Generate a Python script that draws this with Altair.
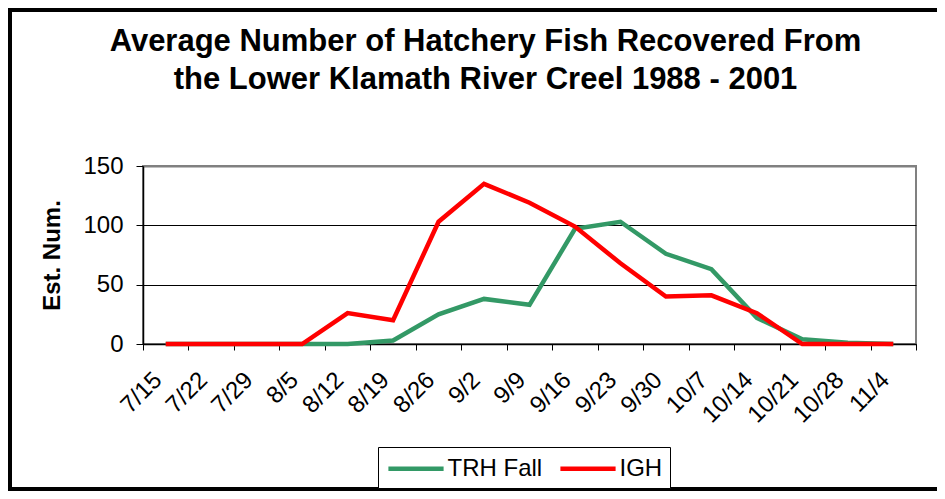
import altair as alt
import pandas as pd

weeks = ["7/15", "7/22", "7/29", "8/5", "8/12", "8/19", "8/26", "9/2", "9/9",
         "9/16", "9/23", "9/30", "10/7", "10/14", "10/21", "10/28", "11/4"]
trh_fall = [0, 0, 0, 0, 0, 3, 25, 38, 33, 97, 103, 76, 63, 22, 4, 1, 0]
igh = [0, 0, 0, 0, 26, 20, 103, 135, 119, 99, 68, 40, 41, 26, 0, 0, 0]
series_names = ["TRH Fall", "IGH"]
series_colors = ["#339966", "#FF0000"]
y_ticks = [0, 50, 100, 150]

rows = []
for name, vals in zip(series_names, [trh_fall, igh]):
    for w, v in zip(weeks, vals):
        rows.append({"week": w, "series": name, "value": v})
df = pd.DataFrame(rows)

frame = alt.Chart(pd.DataFrame({"a": [0]})).mark_rect(
    filled=False, stroke="black", strokeWidth=4, clip=False
).encode(
    x=alt.value(-133), x2=alt.value(820), y=alt.value(-156), y2=alt.value(323)
)

lines = alt.Chart(df).mark_line(strokeWidth=4.5, strokeJoin="miter").encode(
    x=alt.X(
        "week:O", sort=weeks,
        scale=alt.Scale(type="band", paddingInner=0, paddingOuter=0),
        bandPosition=0.5,
        axis=alt.Axis(
            title=None, labelAngle=315, labelAlign="right", labelBaseline="middle",
            tickBand="extent", tickSize=6, labelPadding=26, labelOffset=-8,
            labelFontSize=24, labelColor="black", tickColor="black",
            domainColor="black", domainWidth=1.5, grid=False,
        ),
    ),
    y=alt.Y(
        "value:Q", scale=alt.Scale(domain=[0, 150], nice=False),
        axis=alt.Axis(
            values=y_ticks, title="Est. Num.", titleFontSize=24, titleFontWeight="bold",
            titleColor="black", titlePadding=18, labelFontSize=24, labelColor="black",
            labelPadding=13, tickSize=7, tickColor="black", domainColor="black",
            domainWidth=1.5,
            gridColor=alt.condition("datum.value === 150", alt.value("#808080"), alt.value("black")),
            gridWidth=alt.condition("datum.value === 150", alt.value(2), alt.value(1)),
        ),
    ),
    color=alt.Color(
        "series:N", sort=series_names,
        scale=alt.Scale(domain=series_names, range=series_colors),
        legend=alt.Legend(
            title=None, orient="none", legendX=235, legendY=281, direction="horizontal",
            symbolType="M-2.3,0H2.3", symbolSize=576, symbolStrokeWidth=4.5,
            symbolOffset=16.5, labelFontSize=24, labelColor="black",
            strokeColor="black", fillColor="white", padding=7,
            columnPadding=8, labelOffset=17,
        ),
    ),
)

chart = alt.layer(frame, lines).properties(
    width=773, height=178,
    autosize=alt.AutoSizeParams(type="none"),
    padding={"left": 135, "top": 158, "right": 21, "bottom": 147},
    title=alt.TitleParams(
        ["Average Number of Hatchery Fish Recovered From",
         "the Lower Klamath River Creel 1988 - 2001"],
        fontSize=31, fontWeight="bold", anchor="middle", frame="group",
        dx=-44, offset=-88, lineHeight=38, color="black",
    ),
).configure(
    font="Liberation Sans",
).configure_view(
    stroke="#808080", strokeWidth=2,
)

chart.save("out.html", embed_options={"renderer": "svg", "actions": False})
